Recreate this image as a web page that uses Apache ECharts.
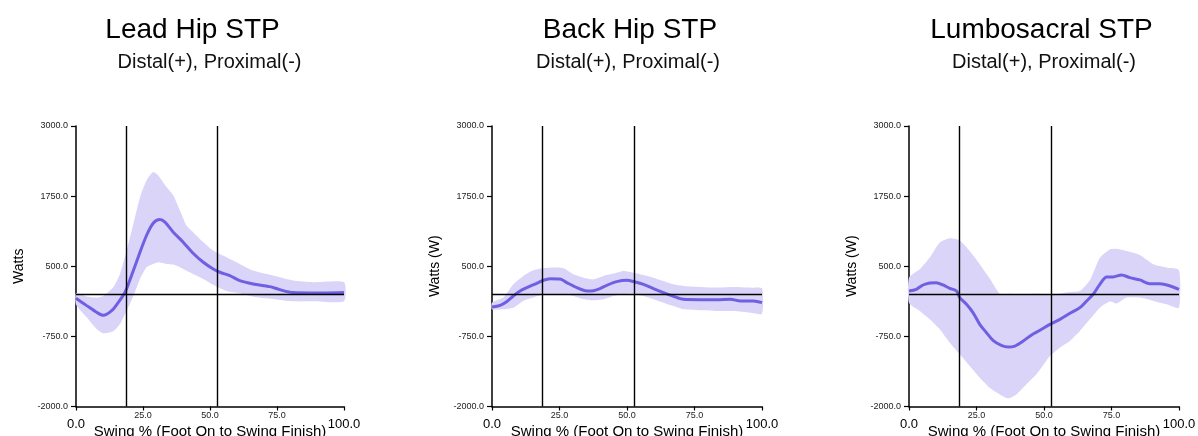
<!DOCTYPE html>
<html>
<head>
<meta charset="utf-8">
<script src="https://cdn.jsdelivr.net/npm/echarts@6/dist/echarts.min.js"></script>
<style>
html,body{margin:0;padding:0;background:#fff;}
#chart{width:1198px;height:436px;}
</style>
</head>
<body>
<div id="chart"></div>
<script>
// ---- Data ----
const panelTitles = ['Lead Hip STP', 'Back Hip STP', 'Lumbosacral STP'];
const panelSubtitle = 'Distal(+), Proximal(-)';
const yAxisNames = ['Watts', 'Watts (W)', 'Watts (W)'];
const xAxisName = 'Swing % (Foot On to Swing Finish)';
const yTickValues = [-2000, -750, 500, 1750, 3000];
const xTickValues = [0, 25, 50, 75, 100];
const eventLines = [18.7, 52.7];

// Lead Hip
const leadX = [0,4,7.7,10.2,13.3,15.8,18.3,20.7,23.2,26.3,28.8,31.3,33.2,36.3,40,43.7,47.5,51.2,53.7,57.4,61.1,66.1,72.3,76,81,87.2,93.4,100];
const leadMean = [-71,-202,-321,-375,-292,-143,36,333,661,1048,1268,1333,1286,1107,929,732,571,452,393,333,244,185,137,83,30,24,24,30];
const leadBandX = [0,4,7.7,10.2,13.9,16.4,18.9,21.4,23.9,26.3,28.8,30.7,33.8,36.3,38.8,41.2,43.7,47.5,51.2,56.1,61.1,66.1,73.5,81,88.4,100];
const leadHi = [20,-40,-60,-30,125,363,780,1256,1732,2030,2179,2119,1911,1762,1494,1226,1107,929,780,661,542,423,333,244,214,214];
const leadLo = [-180,-410,-619,-696,-660,-530,-292,-30,274,482,542,571,542,530,482,420,363,274,170,60,18,-42,-83,-125,-125,-125];

// Back Hip
const backX = [0,3,5.4,7.9,10.4,12.9,16.6,19,21.5,25.2,27.7,31.4,35.1,37.6,40,42.5,46.2,49.9,53,56.1,59.8,63.5,67.2,70.8,77.1,83.3,88.3,92,96.9,100];
const backMean = [-226,-196,-131,-30,59,119,196,250,279,273,208,119,59,65,101,161,226,250,220,178,101,30,-36,-89,-95,-95,-89,-119,-119,-149];
const backBandX = [0,4.2,7.9,11.6,15.3,19,22.7,26.5,30.2,33.9,37.6,41.3,45,48.7,52.4,56.1,59.8,63.5,67.2,71,77.1,83.3,89.5,95.7,100];
const backHi = [-149,-59,178,327,428,464,476,464,357,297,268,327,369,416,386,345,297,238,178,149,131,119,131,119,107];
const backLo = [-268,-268,-238,-119,-59,0,0,0,-30,-89,-107,-89,-30,0,12,-30,-89,-149,-208,-268,-285,-297,-297,-327,-345];

// Lumbosacral
const lumbX = [0,2.7,5.2,7.7,10.1,12.6,15.1,17.6,18.8,21.3,23.7,26.2,28.7,31.1,34.2,36.7,39.2,42.3,45.4,48.5,52.2,55.9,59.6,63.3,65.8,68.2,70.7,73.2,75.6,78.7,81.8,85.5,89.2,93,96.7,100];
const lumbMean = [59,89,166,202,208,166,107,59,-59,-178,-327,-535,-684,-820,-910,-939,-922,-832,-725,-642,-535,-446,-339,-238,-119,0,178,309,309,345,297,256,190,190,149,89];
const lumbBandX = [0,4,7.7,11.4,15.1,18.8,22.5,26.2,29.9,33.6,36.7,39.8,43.5,47.2,52.2,55.9,59.6,63.3,67,70.7,74.4,76.9,80.6,85.5,90.5,95.4,100];
const lumbHi = [297,446,654,922,999,960,773,535,280,12,12,6,5,10,0,12,40,59,250,650,800,810,770,700,535,476,428];
const lumbLo = [-149,-297,-446,-624,-862,-1070,-1278,-1486,-1665,-1784,-1855,-1784,-1605,-1427,-1100,-951,-832,-654,-446,-238,-130,-166,-59,-59,-119,-178,-238];

// ---- Layout / style ----
const FONT = '"Liberation Sans", Arial, sans-serif';
const LINE_COLOR = '#6f5fe3';
const BAND_COLOR = '#dad4f8';
const grids = [
  {left: 76, top: 126, width: 268, height: 280.5, outerBoundsMode: 'none', containLabel: false},
  {left: 492, top: 126, width: 270, height: 280.5, outerBoundsMode: 'none', containLabel: false},
  {left: 909, top: 126, width: 270, height: 280.5, outerBoundsMode: 'none', containLabel: false}
];
const titlePos = [[192.5, 30], [630, 30], [1041.5, 30]];
const subPos = [[209.5, 62], [628, 62], [1044, 62]];

const panels = [
  {mx: leadX, my: leadMean, bx: leadBandX, hi: leadHi, lo: leadLo},
  {mx: backX, my: backMean, bx: backBandX, hi: backHi, lo: backLo},
  {mx: lumbX, my: lumbMean, bx: lumbBandX, hi: lumbHi, lo: lumbLo}
];

const zip = (xs, ys) => xs.map((x, i) => [x, ys[i]]);

const xAxes = [], yAxes = [], series = [], graphics = [];
panels.forEach((p, i) => {
  xAxes.push({
    gridIndex: i, type: 'value', min: 0, max: 100, interval: 25,
    name: xAxisName, nameLocation: 'middle', nameGap: 17.5, nameMoveOverlap: false,
    nameTextStyle: {fontSize: 15, color: '#000', fontFamily: FONT},
    axisLine: {show: true, onZero: false, lineStyle: {color: '#000', width: 1.5}},
    axisTick: {show: true, length: 4, lineStyle: {color: '#000', width: 1.2}},
    axisLabel: {
      margin: 5, color: '#222', fontFamily: FONT, hideOverlap: false,
      formatter: v => (v === 0 || v === 100) ? '{b|' + v.toFixed(1) + '}' : '{s|' + v.toFixed(1) + '}',
      rich: {
        s: {fontSize: 9, color: '#222', fontFamily: FONT},
        b: {fontSize: 13, color: '#000', fontFamily: FONT, padding: [6, 0, 0, 0]}
      }
    },
    splitLine: {show: false}
  });
  yAxes.push({
    gridIndex: i, type: 'value', min: -2000, max: 3000,
    name: yAxisNames[i], nameLocation: 'middle', nameGap: 50, nameMoveOverlap: false,
    nameTextStyle: {fontSize: 14, color: '#000', fontFamily: FONT},
    axisLine: {show: true, onZero: false, lineStyle: {color: '#000', width: 1.5}},
    axisTick: {show: true, length: 5, customValues: yTickValues, lineStyle: {color: '#000', width: 1.2}},
    axisLabel: {customValues: yTickValues, formatter: v => v.toFixed(1), fontSize: 9, margin: 8, color: '#222', fontFamily: FONT},
    splitLine: {show: false}
  });
  // shaded band: polygon through upper values then lower values, placed by the axes
  series.push({
    type: 'custom', xAxisIndex: i, yAxisIndex: i, silent: true, z: 1,
    data: [[0, 0]],
    renderItem: function (params, api) {
      if (params.dataIndex !== 0) return;
      const pts = [];
      p.bx.forEach((x, k) => pts.push(api.coord([x, p.hi[k]])));
      for (let k = p.bx.length - 1; k >= 0; k--) pts.push(api.coord([p.bx[k], p.lo[k]]));
      return {type: 'polygon', shape: {points: pts, smooth: 0.2}, style: {fill: BAND_COLOR, stroke: null}};
    }
  });
  series.push({
    type: 'line', xAxisIndex: i, yAxisIndex: i,
    data: zip(p.mx, p.my), symbol: 'none', smooth: 0.3,
    lineStyle: {color: LINE_COLOR, width: 3}, z: 3,
    markLine: {
      silent: true, symbol: 'none', label: {show: false}, animation: false,
      lineStyle: {color: '#000', width: 1.4, type: 'solid'},
      data: eventLines.map(v => ({xAxis: v})).concat([{yAxis: 0}])
    }
  });
  graphics.push({
    type: 'text', x: titlePos[i][0], y: titlePos[i][1],
    style: {text: panelTitles[i], fontSize: 28, fontFamily: FONT, fill: '#000', align: 'center', verticalAlign: 'middle'}
  });
  graphics.push({
    type: 'text', x: subPos[i][0], y: subPos[i][1],
    style: {text: panelSubtitle, fontSize: 20, fontFamily: FONT, fill: '#111', align: 'center', verticalAlign: 'middle'}
  });
});

const chart = echarts.init(document.getElementById('chart'), null, {renderer: 'canvas'});
chart.setOption({
  animation: false,
  backgroundColor: '#fff',
  grid: grids,
  xAxis: xAxes,
  yAxis: yAxes,
  series: series,
  graphic: graphics
});
</script>
</body>
</html>
